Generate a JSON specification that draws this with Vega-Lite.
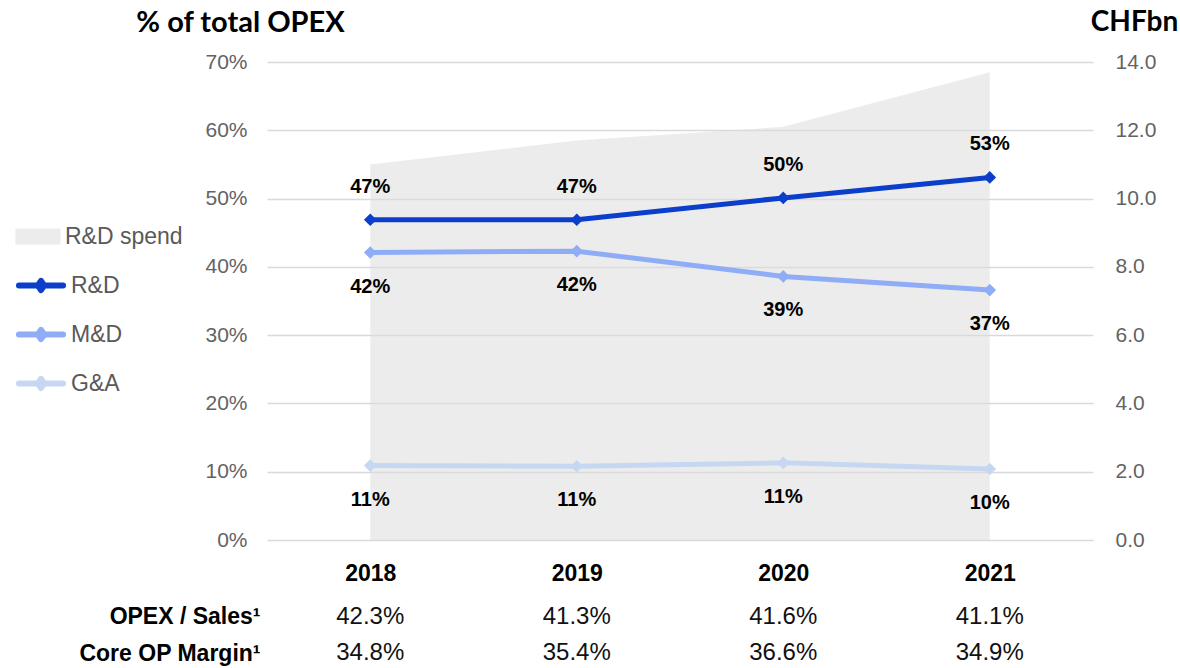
{
  "$schema": "https://vega.github.io/schema/vega-lite/v6.json",
  "padding": {"left": 13, "top": 8, "right": 0, "bottom": 0},
  "spacing": 19,
  "config": {"view": {"stroke": null}, "font": "Liberation Sans"},
  "datasets": {
    "lines": [
      {"year": "2018", "series": "R&D", "value": 0.469},
      {"year": "2019", "series": "R&D", "value": 0.469},
      {"year": "2020", "series": "R&D", "value": 0.501},
      {"year": "2021", "series": "R&D", "value": 0.531},
      {"year": "2018", "series": "M&D", "value": 0.421},
      {"year": "2019", "series": "M&D", "value": 0.423},
      {"year": "2020", "series": "M&D", "value": 0.386},
      {"year": "2021", "series": "M&D", "value": 0.366},
      {"year": "2018", "series": "G&A", "value": 0.109},
      {"year": "2019", "series": "G&A", "value": 0.108},
      {"year": "2020", "series": "G&A", "value": 0.113},
      {"year": "2021", "series": "G&A", "value": 0.104}
    ],
    "spend": [
      {"year": "2018", "spend": 11.0},
      {"year": "2019", "spend": 11.7},
      {"year": "2020", "spend": 12.1},
      {"year": "2021", "spend": 13.7}
    ],
    "table": [
      {"year": "2018", "metric": "OPEX / Sales¹", "value": 0.423},
      {"year": "2019", "metric": "OPEX / Sales¹", "value": 0.413},
      {"year": "2020", "metric": "OPEX / Sales¹", "value": 0.416},
      {"year": "2021", "metric": "OPEX / Sales¹", "value": 0.411},
      {"year": "2018", "metric": "Core OP Margin¹", "value": 0.348},
      {"year": "2019", "metric": "Core OP Margin¹", "value": 0.354},
      {"year": "2020", "metric": "Core OP Margin¹", "value": 0.366},
      {"year": "2021", "metric": "Core OP Margin¹", "value": 0.349}
    ]
  },
  "vconcat": [
    {
      "width": 826,
      "height": 478,
      "layer": [
        {
          "data": {"name": "spend"},
          "mark": {"type": "area", "color": "#dcdcdc", "opacity": 0.55},
          "encoding": {
            "x": {
              "field": "year", "type": "ordinal",
              "scale": {"type": "point", "padding": 0.5},
              "axis": {"orient": "bottom", "title": null, "labelAngle": 0, "domain": false, "ticks": false, "tickSize": 0, "labelPadding": 22, "labelFontSize": 23, "labelFontWeight": "bold", "labelColor": "#000000"}
            },
            "y": {
              "field": "spend", "type": "quantitative",
              "scale": {"domain": [0, 14]},
              "axis": {"orient": "right", "values": [0, 2, 4, 6, 8, 10, 12, 14], "format": ".1f", "grid": false, "domain": false, "ticks": false, "tickSize": 0, "labelPadding": 22, "labelFontSize": 21, "labelColor": "#636363", "title": "CHFbn", "titleAngle": 0, "titleX": 41, "titleY": -40, "titleAlign": "center", "titleBaseline": "middle", "titleFont": "Lato", "titleFontSize": 28, "titleFontWeight": "bold", "titleColor": "#000000"}
            },
            "fill": {
              "datum": "R&D spend",
              "scale": {"range": ["#dcdcdc"]},
              "legend": {"orient": "none", "legendX": -253.5, "legendY": 150, "title": null, "padding": 0, "rowPadding": 0, "symbolType": "M-0.92,-0.33L0.92,-0.33L0.92,0.33L-0.92,0.33Z", "symbolSize": 2401, "symbolStrokeWidth": 0, "labelOffset": 2.5, "labelFontSize": 23, "labelColor": "#595959", "labelFont": "Liberation Sans",
                "encode": {"symbols": {"update": {"fill": {"value": "#ebebeb"}, "opacity": {"value": 1}, "fillOpacity": {"value": 1}}}}}
            }
          }
        },
        {
          "layer": [
            {
              "data": {"name": "lines"},
              "mark": {"type": "line", "strokeWidth": 5, "point": {"shape": "diamond", "size": 160, "filled": true, "opacity": 1}},
              "encoding": {
                "x": {"field": "year", "type": "ordinal"},
                "y": {
                  "field": "value", "type": "quantitative",
                  "scale": {"domain": [0, 0.7]},
                  "axis": {"orient": "left", "values": [0, 0.1, 0.2, 0.3, 0.4, 0.5, 0.6, 0.7], "format": ".0%", "grid": true, "gridColor": "#d9d9d9", "gridWidth": 1.3, "domain": false, "ticks": false, "tickSize": 0, "labelPadding": 20, "labelFontSize": 21, "labelColor": "#636363", "title": "% of total OPEX", "titleAngle": 0, "titleX": -27, "titleY": -40, "titleAlign": "center", "titleBaseline": "middle", "titleFont": "Lato", "titleFontSize": 29, "titleFontWeight": "bold", "titleColor": "#000000"}
                },
                "color": {
                  "field": "series", "type": "nominal",
                  "scale": {"domain": ["R&D", "M&D", "G&A"], "range": ["#0b3fcb", "#8fadf6", "#c6d8f1"]},
                  "legend": {"orient": "none", "legendX": -253.5, "legendY": 196, "title": null, "padding": 0, "rowPadding": 9, "symbolType": "M-0.9,0L0.9,0M0,-0.19L0.13,0L0,0.19L-0.13,0Z", "symbolSize": 2401, "symbolStrokeWidth": 6, "labelOffset": 2.5, "labelFontSize": 23, "labelColor": "#595959", "labelFont": "Liberation Sans",
                    "encode": {"symbols": {"update": {"fill": {"scale": "color", "field": "value"}, "stroke": {"scale": "color", "field": "value"}, "strokeCap": {"value": "round"}, "strokeJoin": {"value": "round"}, "opacity": {"value": 1}}}}}
                }
              }
            },
            {
              "data": {"name": "lines"},
              "transform": [{"filter": "datum.series === 'R&D'"}],
              "mark": {"type": "text", "dy": -33, "fontSize": 20, "fontWeight": "bold", "color": "#000000", "baseline": "middle"},
              "encoding": {
                "x": {"field": "year", "type": "ordinal"},
                "y": {"field": "value", "type": "quantitative"},
                "text": {"field": "value", "type": "quantitative", "format": ".0%"}
              }
            },
            {
              "data": {"name": "lines"},
              "transform": [{"filter": "datum.series !== 'R&D'"}],
              "mark": {"type": "text", "dy": 34, "fontSize": 20, "fontWeight": "bold", "color": "#000000", "baseline": "middle"},
              "encoding": {
                "x": {"field": "year", "type": "ordinal"},
                "y": {"field": "value", "type": "quantitative"},
                "text": {"field": "value", "type": "quantitative", "format": ".0%"}
              }
            }
          ]
        }
      ],
      "resolve": {"scale": {"y": "independent"}}
    },
    {
      "width": 826,
      "height": 60,
      "data": {"name": "table"},
      "mark": {"type": "text", "fontSize": 24, "color": "#111111", "baseline": "middle"},
      "encoding": {
        "x": {"field": "year", "type": "ordinal", "scale": {"type": "point", "padding": 0.5}, "axis": null},
        "y": {
          "field": "metric", "type": "nominal",
          "scale": {"type": "point", "padding": 0.3333, "domain": ["OPEX / Sales¹", "Core OP Margin¹"]},
          "axis": {"title": null, "domain": false, "ticks": false, "tickSize": 0, "labelPadding": 7, "labelLimit": 0, "labelFontSize": 23, "labelFontWeight": "bold", "labelColor": "#000000"}
        },
        "text": {"field": "value", "type": "quantitative", "format": ".1%"}
      }
    }
  ]
}
